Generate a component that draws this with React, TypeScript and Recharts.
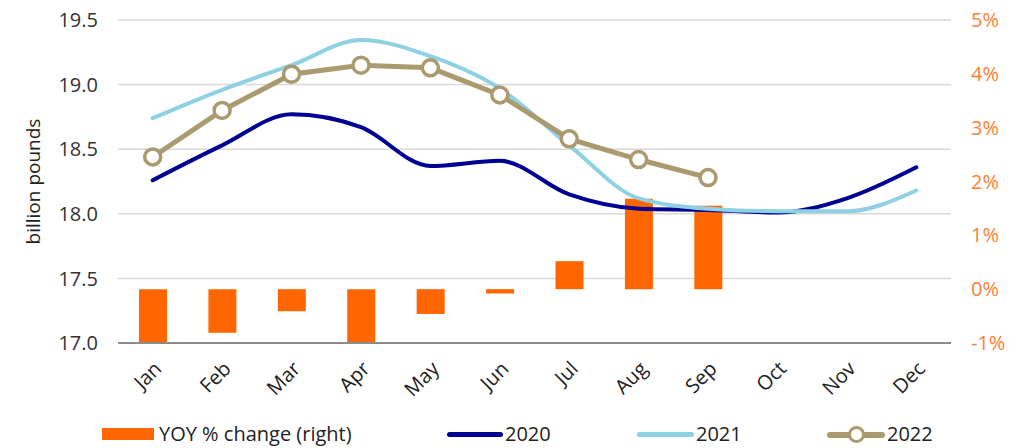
import { Bar, CartesianGrid, ComposedChart, Legend, Line, XAxis, YAxis } from "recharts";

const months = ["Jan", "Feb", "Mar", "Apr", "May", "Jun", "Jul", "Aug", "Sep", "Oct", "Nov", "Dec"];
const yoyChange = [-1.0, -0.81, -0.41, -0.98, -0.46, -0.08, 0.52, 1.68, 1.55, null, null, null];
const sales2020 = [18.26, 18.53, 18.77, 18.67, 18.37, 18.41, 18.15, 18.04, 18.03, 18.01, 18.12, 18.36];
const sales2021 = [18.74, 18.96, 19.15, 19.345, 19.22, 18.97, 18.53, 18.12, 18.04, 18.02, 18.02, 18.18];
const sales2022 = [18.44, 18.8, 19.08, 19.15, 19.13, 18.92, 18.58, 18.42, 18.28, null, null, null];
const leftTicks = [17, 17.5, 18, 18.5, 19, 19.5];
const rightTicks = [-1, 0, 1, 2, 3, 4, 5];

const data = months.map((m, i) => ({
  month: m,
  yoy: yoyChange[i],
  s2020: sales2020[i],
  s2021: sales2021[i],
  s2022: sales2022[i]
}));

const FONT = "'Open Sans', 'Noto Sans', sans-serif";
const ORANGE = "#FF6600";
const NAVY = "#000092";
const LIGHT = "#8DD1E3";
const TAN = "#AA9A6E";

function LegendBox() {
  const textStyle = { position: "absolute" as const, top: 16, fontSize: 20, color: "#222", fontFamily: FONT, lineHeight: "30px" };
  return (
    <div style={{ position: "relative", width: 1026, height: 45 }}>
      <div style={{ position: "absolute", left: 102, top: 25, width: 52, height: 12, background: ORANGE }} />
      <span style={{ ...textStyle, left: 159 }}>YOY % change (right)</span>
      <div style={{ position: "absolute", left: 447, top: 29, width: 56, height: 5, borderRadius: 3, background: NAVY }} />
      <span style={{ ...textStyle, left: 505 }}>2020</span>
      <div style={{ position: "absolute", left: 637, top: 29, width: 57, height: 5, borderRadius: 3, background: LIGHT }} />
      <span style={{ ...textStyle, left: 696 }}>2021</span>
      <div style={{ position: "absolute", left: 827, top: 29, width: 58, height: 6, borderRadius: 3, background: TAN }} />
      <div
        style={{
          position: "absolute",
          left: 848,
          top: 23,
          width: 11,
          height: 11,
          borderRadius: "50%",
          background: "#fff",
          border: `3.5px solid ${TAN}`
        }}
      />
      <span style={{ ...textStyle, left: 887 }}>2022</span>
    </div>
  );
}

export default function App() {
  return (
    <div style={{ position: "absolute", left: 0, top: 0, background: "#fff" }}>
      <ComposedChart width={1026} height={448} data={data} margin={{ top: 20, right: 0, bottom: 0, left: 0 }}>
        <CartesianGrid yAxisId="left" vertical={false} stroke="#d9d9d9" strokeWidth={1.5} />
        <XAxis
          dataKey="month"
          height={60}
          tickLine={false}
          axisLine={{ stroke: "#8c8c8c", strokeWidth: 2 }}
          tick={{ fill: "#222", fontSize: 20, fontFamily: FONT, angle: -45, textAnchor: "end" }}
          tickMargin={11}
          interval={0}
        />
        <YAxis
          yAxisId="left"
          domain={[17, 19.5]}
          ticks={leftTicks}
          tickFormatter={(v: number) => v.toFixed(1)}
          width={118}
          tickSize={0}
          tickMargin={20}
          axisLine={false}
          tick={{ fill: "#333", fontSize: 20, fontFamily: FONT }}
          label={{
            value: "billion pounds",
            angle: -90,
            position: "insideLeft",
            offset: 33,
            style: { textAnchor: "middle", fill: "#222", fontSize: 19, fontFamily: FONT }
          }}
        />
        <YAxis
          yAxisId="right"
          orientation="right"
          domain={[-1, 5]}
          ticks={rightTicks}
          allowDataOverflow
          tickFormatter={(v: number) => `${v}%`}
          width={75}
          tickSize={0}
          tickMargin={20}
          axisLine={false}
          tick={{ fill: "#FF8033", fontSize: 20, fontFamily: FONT, textAnchor: "start" }}
        />
        <Legend verticalAlign="bottom" height={45} content={() => <LegendBox />} />
        <Bar yAxisId="right" dataKey="yoy" fill={ORANGE} barSize={28} isAnimationActive={false} />
        <Line
          yAxisId="left"
          type="monotone"
          dataKey="s2020"
          stroke={NAVY}
          strokeWidth={4}
          strokeLinecap="round"
          dot={false}
          activeDot={false}
          isAnimationActive={false}
        />
        <Line
          yAxisId="left"
          type="monotone"
          dataKey="s2021"
          stroke={LIGHT}
          strokeWidth={4}
          strokeLinecap="round"
          dot={false}
          activeDot={false}
          isAnimationActive={false}
        />
        <Line
          yAxisId="left"
          type="linear"
          dataKey="s2022"
          stroke={TAN}
          strokeWidth={5}
          dot={{ r: 8, fill: "#fff", stroke: TAN, strokeWidth: 3.5 }}
          activeDot={false}
          isAnimationActive={false}
        />
      </ComposedChart>
    </div>
  );
}
